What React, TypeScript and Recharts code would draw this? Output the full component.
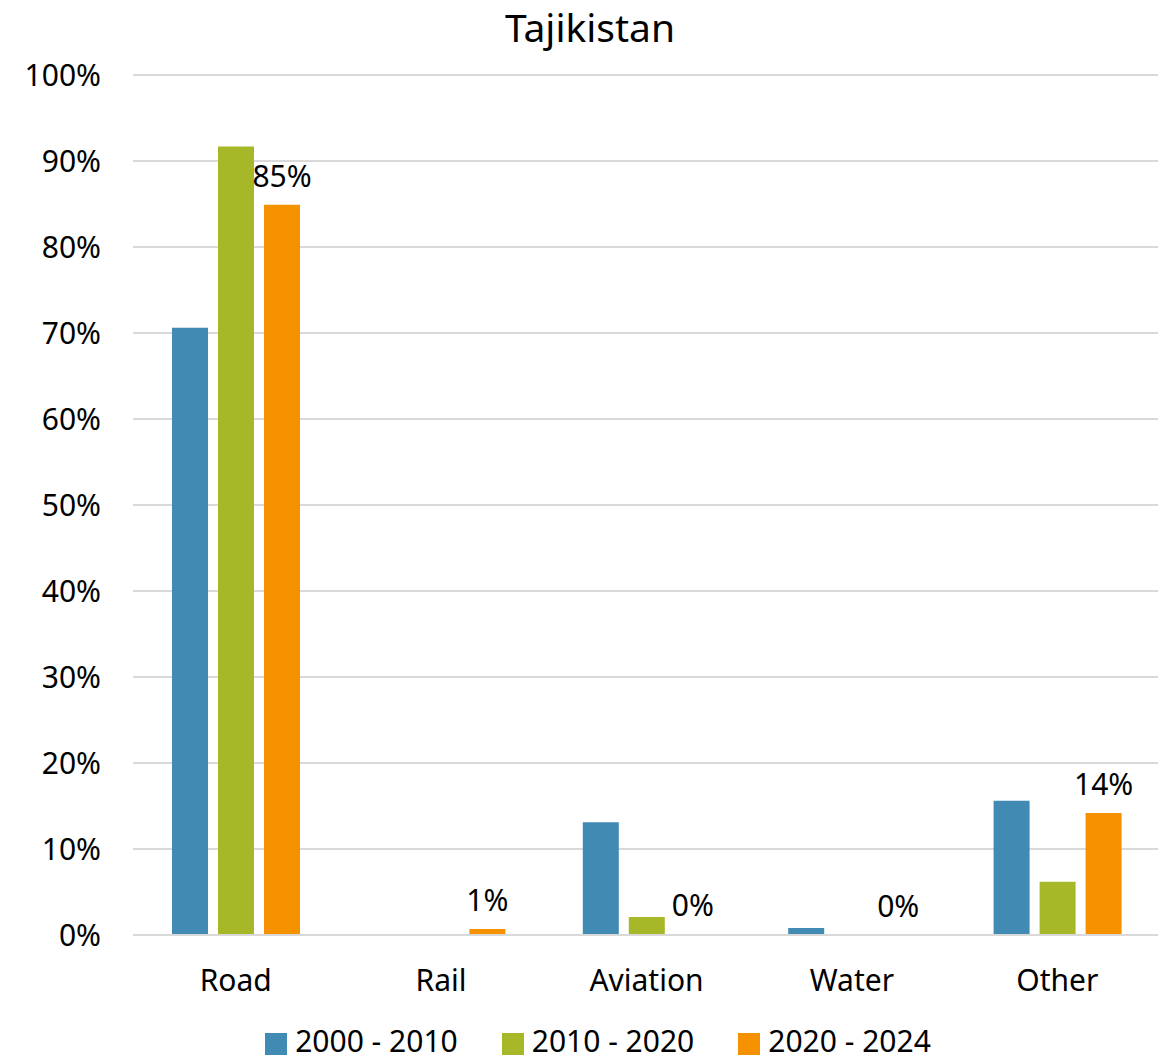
import { Bar, BarChart, CartesianGrid, LabelList, Legend, XAxis, YAxis } from "recharts";

const categories = ["Road", "Rail", "Aviation", "Water", "Other"];
const s2000 = [70.6, 0, 13.1, 0.8, 15.6];
const s2010 = [91.7, 0, 2.1, 0, 6.2];
const s2020 = [84.9, 0.7, 0.1, 0.02, 14.2];
const yTicks = [0, 10, 20, 30, 40, 50, 60, 70, 80, 90, 100];

const data = categories.map((name, i) => ({
  name,
  a: s2000[i],
  b: s2010[i],
  c: s2020[i],
}));

const font = "'Noto Sans', sans-serif";

export default function App() {
  return (
    <div style={{ position: "relative", margin: "-8px 0 0 -8px", width: 1166, height: 1064, background: "#fff", fontFamily: font, overflow: "hidden" }}>
      <div style={{ position: "absolute", top: 0, left: 0, width: 1180, textAlign: "center", fontSize: 39, color: "#000" }}>
        Tajikistan
      </div>
      <BarChart
        width={1166}
        height={1064}
        data={data}
        margin={{ top: 75, right: 6, bottom: 0, left: 0 }}
        barSize={36}
        barGap={10}
      >
        <CartesianGrid vertical={false} stroke="#d9d9d9" strokeWidth={2} />
        <XAxis
          dataKey="name"
          height={70}
          axisLine={{ stroke: "#d9d9d9", strokeWidth: 2 }}
          tickLine={false}
          tickSize={0}
          tickMargin={35}
          tick={{ fontSize: 30, fill: "#000", fontFamily: font }}
        />
        <YAxis
          width={133}
          domain={[0, 100]}
          ticks={yTicks}
          axisLine={false}
          tickLine={false}
          tickSize={0}
          tickMargin={32}
          tickFormatter={(v) => `${v}%`}
          tick={{ fontSize: 30, fill: "#000", fontFamily: font }}
        />
        <Legend
          verticalAlign="bottom"
          height={59}
          iconType="square"
          iconSize={22}
          wrapperStyle={{ fontSize: 30, fontFamily: font, bottom: -15, left: 40 }}
          formatter={(value) => <span style={{ color: "#000", marginLeft: 4, marginRight: 34 }}>{value}</span>}
        />
        <Bar dataKey="a" name="2000 - 2010" fill="#418AB3" isAnimationActive={false} />
        <Bar dataKey="b" name="2010 - 2020" fill="#A6B727" isAnimationActive={false} />
        <Bar dataKey="c" name="2020 - 2024" fill="#F69200" isAnimationActive={false}>
          <LabelList
            dataKey="c"
            position="top"
            offset={18}
            formatter={(v: any) => `${Math.round(Number(v))}%`}
            style={{ fontSize: 30, fill: "#000", fontFamily: font }}
          />
        </Bar>
      </BarChart>
    </div>
  );
}
